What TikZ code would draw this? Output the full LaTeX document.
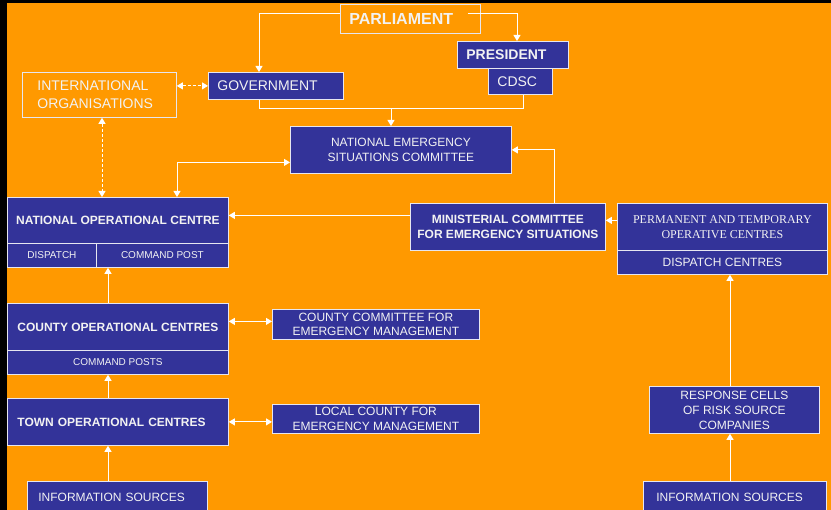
\documentclass[tikz,border=0pt]{standalone}
\usepackage{fontspec}
\setmainfont{Liberation Sans}
\newfontfamily\serifface{Liberation Serif}
\usetikzlibrary{arrows.meta,calc}
\definecolor{bg}{HTML}{FF9900}
\definecolor{bx}{HTML}{333399}
\definecolor{edgec}{HTML}{E6E6F0}
\definecolor{txt}{HTML}{F2F2F2}
\tikzset{
  box/.style={draw=edgec, line width=0.8pt, fill=bx, text=txt, inner sep=0pt, anchor=north west, align=center},
  obox/.style={box, fill=bg},
  sz/.style 2 args={minimum width=#1, minimum height=#2},
  lft/.style 2 args={align=left, inner xsep=#1, text width=#2},
  ln/.style={draw=white, line width=1pt},
  arr/.style={ln, -{Triangle[width=7pt,length=6pt]}},
  darr/.style={ln, {Triangle[width=7pt,length=6pt]}-{Triangle[width=7pt,length=6pt]}},
  dsh/.style={dash pattern=on 3pt off 2pt},
  fa/.style={font=\fontsize{14}{17.5}\selectfont},
  fb/.style={font=\fontsize{12}{15}\selectfont},
  fbb/.style={font=\bfseries\fontsize{12}{15}\selectfont},
  fc/.style={font=\fontsize{10}{12}\selectfont},
  fs/.style={font=\serifface\fontsize{12}{15}\selectfont},
}
\begin{document}
\begin{tikzpicture}[x=1pt,y=-1pt]
\useasboundingbox (0,0) rectangle (831,510);
\fill[black] (0,0) rectangle (831,510);
\fill[bg] (7,3) rectangle (831,510);

% nodes
\node[obox, sz={140pt}{29pt}, lft={9pt}{122pt}, font=\bfseries\fontsize{16}{19}\selectfont] (parl) at (340,4) {PARLIAMENT};
\node[box, sz={135pt}{27pt}, lft={9pt}{117pt}, fa] (gov) at (208,72) {GOVERNMENT};
\node[obox, sz={154pt}{45pt}, lft={15pt}{124pt}, fa] (intorg) at (22,72) {INTERNATIONAL\\ORGANISATIONS};
\node[box, sz={111pt}{27pt}, lft={9pt}{93pt}, font=\bfseries\fontsize{14}{17}\selectfont] (pres) at (457,41) {PRESIDENT};
\node[box, sz={64pt}{26pt}, lft={9pt}{46pt}, fa] (cdsc) at (488,68) {CDSC};
\node[box, sz={221pt}{47pt}, fb] (nesc) at (290,126) {NATIONAL EMERGENCY\\SITUATIONS COMMITTEE};
\node[box, sz={221pt}{46pt}, fbb] (noc) at (7,197) {NATIONAL OPERATIONAL CENTRE};
\node[box, sz={89pt}{24pt}, fc] (nocd) at (7,243) {DISPATCH};
\node[box, sz={132pt}{24pt}, fc] (noccp) at (96,243) {COMMAND POST};
\node[box, sz={195pt}{47pt}, fbb] (mces) at (410,203) {MINISTERIAL COMMITTEE\\FOR EMERGENCY SITUATIONS};
\node[box, sz={210pt}{47pt}, fs] (ptoc) at (617,203) {PERMANENT AND TEMPORARY\\OPERATIVE CENTRES};
\node[box, sz={210pt}{24pt}, fb] (ptocd) at (617,250) {DISPATCH CENTRES};
\node[box, sz={221pt}{47pt}, fbb] (coc) at (7,303) {COUNTY OPERATIONAL CENTRES};
\node[box, sz={221pt}{24pt}, fc] (cocp) at (7,350) {COMMAND POSTS};
\node[box, sz={207pt}{30pt}, font=\fontsize{12}{14.5}\selectfont] (ccem) at (272,309) {COUNTY COMMITTEE FOR\\EMERGENCY MANAGEMENT};
\node[box, sz={221pt}{47pt}, lft={10pt}{201pt}, fbb] (toc) at (7,398) {TOWN OPERATIONAL CENTRES};
\node[box, sz={207pt}{29pt}, font=\fontsize{12}{14.5}\selectfont] (lcem) at (272,404) {LOCAL COUNTY FOR\\EMERGENCY MANAGEMENT};
\node[box, sz={180pt}{32pt}, lft={11pt}{158pt}, fb] (isl) at (27,481) {INFORMATION SOURCES};
\node[box, sz={170pt}{47pt}, fb] (rcell) at (649,386) {RESPONSE CELLS\\OF RISK SOURCE\\COMPANIES};
\node[box, sz={183pt}{32pt}, lft={13pt}{157pt}, fb] (isr) at (643,481) {INFORMATION SOURCES};

% connectors
\draw[arr] ([yshift=5pt]parl.west) -| ([xshift=51pt]gov.north west);
\draw[arr] ([xshift=-13pt,yshift=5pt]parl.east) -| ([xshift=60pt]pres.north west);
\draw[ln] ([xshift=51pt]gov.south west) -- ++(0,9) -| ([xshift=35pt]cdsc.south west);
\coordinate (j1) at (391,108);
\draw[arr] (j1) -- (j1 |- nesc.north);
\draw[darr, dsh] (gov.west -| intorg.east) -- (gov.west);
\draw[darr, dsh] ([xshift=80pt]intorg.south west) -- ([xshift=80pt]intorg.south west |- noc.north);
\draw[darr] ([yshift=-12.5pt]nesc.west) -| ([xshift=170pt]noc.north west);
\draw[arr] ([yshift=11.5pt]mces.west) -- ([yshift=11.5pt]mces.west -| noc.east);
\draw[arr] ([xshift=144pt]mces.north west) |- (nesc.east);
\draw[arr] ([yshift=6.5pt]ptoc.west) -- ([yshift=6.5pt]ptoc.west -| mces.east);
\draw[arr] ([xshift=81pt]rcell.north west) -- ([xshift=81pt]rcell.north west |- ptocd.south);
\draw[arr] ([xshift=87pt]isr.north west) -- ([xshift=87pt]isr.north west |- rcell.south);
\draw[arr] ([xshift=101pt]coc.north west) -- ([xshift=101pt]coc.north west |- noccp.south);
\draw[arr] ([xshift=101pt]toc.north west) -- ([xshift=101pt]toc.north west |- cocp.south);
\draw[arr] ([xshift=81pt]isl.north west) -- ([xshift=81pt]isl.north west |- toc.south);
\draw[darr] ([yshift=3pt]ccem.west) -- ([yshift=3pt]ccem.west -| coc.east);
\draw[darr] (toc.east) -- (toc.east -| lcem.west);
\end{tikzpicture}
\end{document}
